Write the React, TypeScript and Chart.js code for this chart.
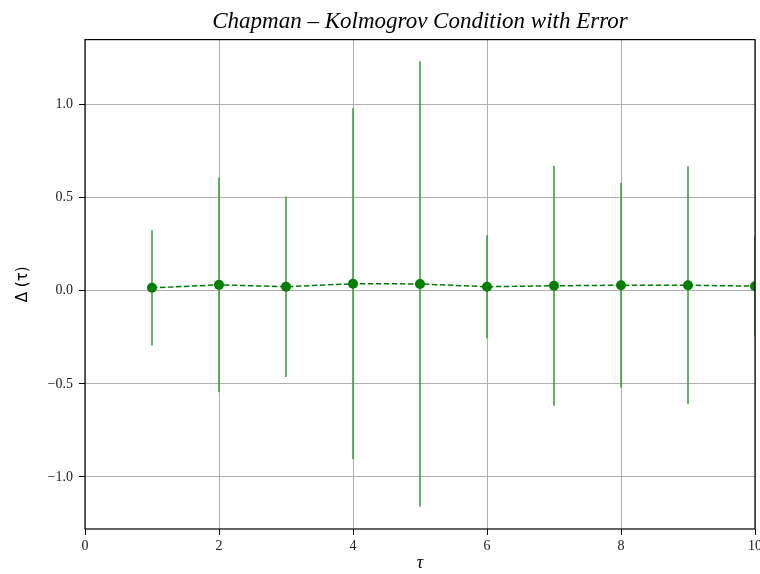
import React, { useEffect, useRef } from "react";
import { Chart, registerables } from "chart.js";

Chart.register(...registerables);

const TITLE = "Chapman – Kolmogrov Condition with Error";
const X_LABEL = "τ";
const Y_LABEL = "Δ (τ)";

const taus = [1, 2, 3, 4, 5, 6, 7, 8, 9, 10];
const deltas = [0.016, 0.032, 0.022, 0.038, 0.037, 0.022, 0.027, 0.03, 0.03, 0.025];
const errors = [0.31, 0.577, 0.485, 0.943, 1.196, 0.277, 0.645, 0.55, 0.64, 0.27];
const xTicks = [0, 2, 4, 6, 8, 10];
const yTicks = [-1.0, -0.5, 0.0, 0.5, 1.0];

const errorBarPlugin = {
  id: "errorBars",
  beforeDatasetsDraw(chart: any) {
    const { ctx, chartArea, scales } = chart;
    const x = scales.x;
    const y = scales.y;
    ctx.save();
    ctx.beginPath();
    ctx.rect(chartArea.left, chartArea.top, chartArea.right - chartArea.left, chartArea.bottom - chartArea.top);
    ctx.clip();
    ctx.strokeStyle = "rgba(44,160,44,0.75)";
    ctx.lineWidth = 2;
    taus.forEach((t, i) => {
      const px = x.getPixelForValue(t);
      ctx.beginPath();
      ctx.moveTo(px, y.getPixelForValue(deltas[i] - errors[i]));
      ctx.lineTo(px, y.getPixelForValue(deltas[i] + errors[i]));
      ctx.stroke();
    });
    ctx.restore();
  },
};

const framePlugin = {
  id: "frame",
  afterDatasetsDraw(chart: any) {
    const { ctx, chartArea } = chart;
    ctx.save();
    ctx.strokeStyle = "#000";
    ctx.lineWidth = 1.2;
    ctx.strokeRect(chartArea.left, chartArea.top, chartArea.right - chartArea.left, chartArea.bottom - chartArea.top);
    ctx.restore();
  },
};

const tickFont = { family: "'Liberation Serif', serif", size: 14 };

export default function App() {
  const ref = useRef<HTMLCanvasElement | null>(null);

  useEffect(() => {
    document.body.style.margin = "0";
    const canvas = ref.current;
    if (!canvas) return;
    const chart = new Chart(canvas, {
      type: "line",
      data: {
        datasets: [
          {
            data: taus.map((t, i) => ({ x: t, y: deltas[i] })),
            borderColor: "#008000",
            backgroundColor: "#008000",
            borderWidth: 1.5,
            borderDash: [5.5, 2.5],
            pointRadius: 5,
            pointBackgroundColor: "#008000",
            pointBorderColor: "#008000",
            pointBorderWidth: 0,
            tension: 0,
            clip: 0,
          },
        ],
      },
      options: {
        responsive: false,
        animation: false,
        layout: { padding: { left: 0, right: 5, top: 0, bottom: 0 } },
        plugins: {
          legend: { display: false },
          tooltip: { enabled: false },
          title: {
            display: true,
            text: TITLE,
            fullSize: false,
            color: "#000",
            font: { family: "'Liberation Serif', serif", style: "italic", size: 23, weight: "normal" },
            padding: { top: 8, bottom: 4 },
          },
        },
        scales: {
          x: {
            type: "linear",
            min: 0,
            max: 10,
            afterBuildTicks: (s: any) => {
              s.ticks = xTicks.map((v) => ({ value: v }));
            },
            afterFit: (s: any) => {
              s.height = 45;
              s.paddingLeft = 0;
              s.paddingRight = 0;
            },
            grid: { color: "#b0b0b0", lineWidth: 1, tickColor: "#000", tickLength: 6, drawTicks: true },
            border: { display: false },
            ticks: {
              font: tickFont,
              color: "#222",
              padding: 3,
              maxRotation: 0,
              autoSkip: false,
              callback: (v: any) => String(v),
            },
            title: {
              display: true,
              text: X_LABEL,
              color: "#000",
              font: { family: "'Liberation Serif', serif", style: "italic", size: 18 },
              padding: { top: 0, bottom: 0 },
            },
          },
          y: {
            type: "linear",
            min: -1.28,
            max: 1.35,
            afterBuildTicks: (s: any) => {
              s.ticks = yTicks.map((v) => ({ value: v }));
            },
            afterFit: (s: any) => {
              s.width = 85;
              s.paddingTop = 0;
              s.paddingBottom = 0;
            },
            grid: { color: "#b0b0b0", lineWidth: 1, tickColor: "#000", tickLength: 6, drawTicks: true },
            border: { display: false },
            ticks: {
              font: tickFont,
              color: "#222",
              padding: 6,
              autoSkip: false,
              callback: (v: any) => Number(v).toFixed(1).replace("-", "\u2212"),
            },
            title: {
              display: true,
              text: Y_LABEL,
              color: "#000",
              font: { family: "'DejaVu Sans', sans-serif", size: 15 },
              padding: { top: 14, bottom: 0 },
            },
          },
        },
      },
      plugins: [errorBarPlugin, framePlugin],
    } as any);
    return () => chart.destroy();
  }, []);

  return (
    <div style={{ width: 760, height: 574 }}>
      <canvas ref={ref} width={760} height={574} style={{ display: "block", width: 760, height: 574 }} />
    </div>
  );
}
